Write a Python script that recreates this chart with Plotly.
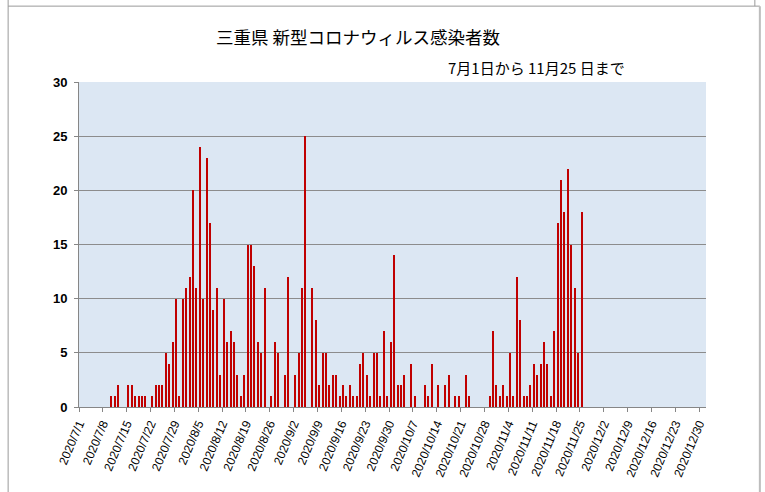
import pandas as pd
import plotly.graph_objects as go

start_date = "2020-07-01"
end_date = "2020-11-25"
cases = [
    0, 0, 0, 0, 0, 0, 0, 0, 0, 1,
    1, 2, 0, 0, 2, 2, 1, 1, 1, 1,
    0, 1, 2, 2, 2, 5, 4, 6, 10, 1,
    10, 11, 12, 20, 11, 24, 10, 23, 17, 9,
    11, 3, 10, 6, 7, 6, 3, 1, 3, 15,
    15, 13, 6, 5, 11, 0, 1, 6, 5, 0,
    3, 12, 0, 3, 5, 11, 25, 0, 11, 8,
    2, 5, 5, 2, 3, 3, 1, 2, 1, 2,
    1, 1, 4, 5, 3, 1, 5, 5, 1, 7,
    1, 6, 14, 2, 2, 3, 0, 4, 1, 0,
    0, 2, 1, 4, 0, 2, 0, 2, 3, 0,
    1, 1, 0, 3, 1, 0, 0, 0, 0, 0,
    1, 7, 2, 1, 2, 1, 5, 1, 12, 8,
    1, 1, 2, 4, 3, 4, 6, 4, 1, 7,
    17, 21, 18, 22, 15, 11, 5, 18,
]
axis_start = "2020-07-01"
axis_end = "2020-12-31"
tick_step_days = 7
y_ticks = [0, 5, 10, 15, 20, 25, 30]
title_text = "三重県 新型コロナウィルス感染者数"
subtitle_text = "7月1日から 11月25 日まで"

dates = pd.date_range(start_date, end_date, freq="D")
half_day = pd.Timedelta(hours=12)
ax0 = pd.Timestamp(axis_start)
ax1 = pd.Timestamp(axis_end)
tick_dates = pd.date_range(axis_start, "2020-12-30", freq=f"{tick_step_days}D")
tickvals = [d - half_day for d in tick_dates]
ticktext = [f"{d.year}/{d.month}/{d.day}" for d in tick_dates]

fig = go.Figure()
fig.add_trace(go.Bar(
    x=dates, y=cases,
    marker=dict(color="#C00000", line=dict(width=0)),
    width=0.36 * 86400000,
    hoverinfo="x+y",
))

W, H = 765, 492
L, R, T, B = 79.3, 705.7, 82.3, 407.0
pw, ph = R - L, B - T

def px(x):
    return (x - L) / pw

def py(y):
    return (B - y) / ph

fig.update_layout(
    width=W, height=H,
    margin=dict(l=L, r=W - R, t=T, b=H - B, pad=0),
    paper_bgcolor="white",
    plot_bgcolor="#DCE7F3",
    showlegend=False,
    bargap=0,
    font=dict(family="Liberation Sans, Arial, sans-serif", color="black"),
    xaxis=dict(
        type="date",
        range=[ax0 - half_day, ax1 + half_day],
        tickmode="array", tickvals=tickvals, ticktext=ticktext,
        tickangle=-67,
        tickfont=dict(size=12, family="Liberation Sans, Arial, sans-serif"),
        ticks="outside", ticklen=4, tickcolor="#868686", tickwidth=1,
        showline=True, linecolor="#868686", linewidth=1,
        showgrid=False, zeroline=False, fixedrange=True, automargin=False,
    ),
    yaxis=dict(
        range=[0, 30],
        tickmode="array", tickvals=y_ticks,
        tickfont=dict(size=13, family="Liberation Sans, Arial, sans-serif", weight="bold"),
        ticks="outside", ticklen=4, tickcolor="#868686", tickwidth=1,
        ticklabelstandoff=4,
        showline=True, linecolor="#868686", linewidth=1,
        showgrid=True, gridcolor="#8C8C8C", gridwidth=1,
        zeroline=False, fixedrange=True, automargin=False,
    ),
    annotations=[
        dict(text=title_text, xref="paper", yref="paper",
             x=px(358), y=py(37), xanchor="center", yanchor="middle",
             showarrow=False,
             font=dict(size=17.5, family="Noto Sans CJK JP", color="black")),
        dict(text=subtitle_text, xref="paper", yref="paper",
             x=px(536), y=py(67.5), xanchor="center", yanchor="middle",
             showarrow=False,
             font=dict(size=15, family="Noto Sans CJK JP", color="black")),
    ],
    shapes=[
        dict(type="line", xref="paper", yref="paper", x0=px(8.5), x1=px(8.5), y0=py(0), y1=py(H),
             line=dict(color="#9A9A9A", width=1)),
        dict(type="line", xref="paper", yref="paper", x0=px(8.5), x1=px(759.5), y0=py(6.5), y1=py(6.5),
             line=dict(color="#9A9A9A", width=1)),
        dict(type="line", xref="paper", yref="paper", x0=px(754.5), x1=px(754.5), y0=py(0), y1=py(6.5),
             line=dict(color="#9A9A9A", width=1)),
        dict(type="line", xref="paper", yref="paper", x0=px(759.5), x1=px(759.5), y0=py(6.5), y1=py(H),
             line=dict(color="#BDBDBD", width=2)),
    ],
)

fig.write_html(
    "out.html",
    config={"displayModeBar": False},
    post_script="document.body.style.margin='0';document.body.style.overflow='hidden';",
)
